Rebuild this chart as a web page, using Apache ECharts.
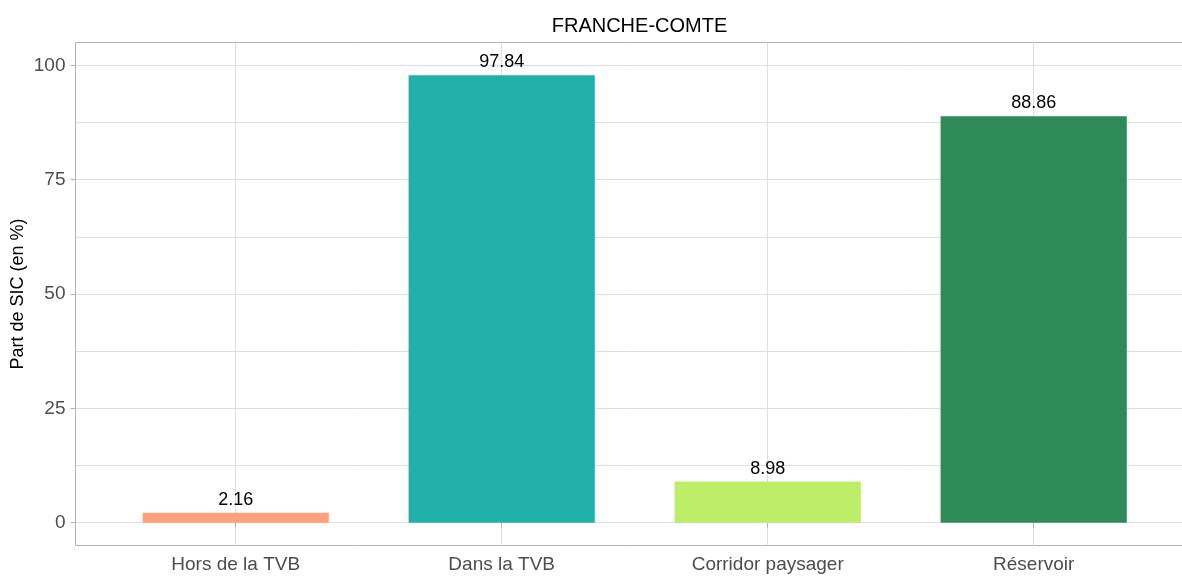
<!DOCTYPE html>
<html>
<head>
<meta charset="utf-8">
<script src="https://cdn.jsdelivr.net/npm/echarts@6/dist/echarts.min.js"></script>
<style>html,body{margin:0;padding:0;background:#fff;}#chart{width:1182px;height:576px;}</style>
</head>
<body>
<div id="chart"></div>
<script>
const categories = ['Hors de la TVB', 'Dans la TVB', 'Corridor paysager', 'Réservoir'];
const values = [2.16, 97.84, 8.98, 88.86];
const barColors = ['#FFA07A', '#20B2AA', '#BCEE68', '#2E8B57'];
const yTicks = [0, 25, 50, 75, 100];
const yGrid = [0, 12.5, 25, 37.5, 50, 62.5, 75, 87.5, 100];
const yMin = -5, yMax = 105;

const FONT = 'Liberation Sans, Arial, sans-serif';
const chart = echarts.init(document.getElementById('chart'), null, {renderer: 'canvas'});
const gridLines = yGrid.map(v => ({yAxis: v}));
const borderLines = [yMin, yMax].map(v => ({yAxis: v, lineStyle: {color: '#b3b3b3', width: 1}}));
const option = {
  animation: false,
  backgroundColor: '#fff',
  textStyle: {fontFamily: FONT},
  title: {
    text: 'FRANCHE-COMTE', left: 634.5, top: 11, textAlign: 'center',
    textStyle: {fontFamily: FONT, fontSize: 20, fontWeight: 'normal', color: '#000'}
  },
  grid: [
    {left: 75.5, top: 42.5, width: 1117, height: 503, show: false, containLabel: false, outerBoundsMode: 'none'},
    {left: 102.7, top: 42.5, width: 1064, height: 503, containLabel: false, outerBoundsMode: 'none'}
  ],
  xAxis: [
    {gridIndex: 0, type: 'value', min: 0, max: 1, show: false},
    {gridIndex: 1, type: 'category', data: categories,
     axisLine: {show: false},
     axisTick: {show: true, alignWithLabel: true, length: 5, lineStyle: {color: '#b3b3b3', width: 1}},
     axisLabel: {fontFamily: FONT, fontSize: 19, color: '#4d4d4d', margin: 10},
     splitLine: {show: false}}
  ],
  yAxis: [
    {gridIndex: 0, type: 'value', min: yMin, max: yMax,
     axisLine: {show: true, lineStyle: {color: '#b3b3b3', width: 1}},
     axisTick: {show: true, customValues: yTicks, length: 5, lineStyle: {color: '#b3b3b3', width: 1}},
     axisLabel: {customValues: yTicks, fontFamily: FONT, fontSize: 19, color: '#4d4d4d', margin: 10},
     splitLine: {show: false},
     name: 'Part de SIC (en %)', nameLocation: 'middle', nameRotate: 90, nameGap: 48, nameMoveOverlap: false,
     nameTextStyle: {fontFamily: FONT, fontSize: 18, color: '#000'}},
    {gridIndex: 1, type: 'value', min: yMin, max: yMax, show: false, splitLine: {show: false}}
  ],
  series: [
    {
      type: 'line', xAxisIndex: 0, yAxisIndex: 0, data: [[0.5, 0]], symbol: 'none',
      lineStyle: {opacity: 0}, silent: true, z: 0,
      markLine: {silent: true, z: 0, symbol: ['none', 'none'], label: {show: false}, animation: false,
        lineStyle: {color: '#dedede', width: 1, type: 'solid'},
        data: gridLines.concat(borderLines)}
    },
    {
      type: 'line', xAxisIndex: 1, yAxisIndex: 1, data: categories.map(() => 0), symbol: 'none',
      lineStyle: {opacity: 0}, silent: true, z: 0,
      markLine: {silent: true, z: 0, symbol: ['none', 'none'], label: {show: false}, animation: false,
        lineStyle: {color: '#dedede', width: 1, type: 'solid'},
        data: categories.map(c => ({xAxis: c}))}
    },
    {
      type: 'bar', xAxisIndex: 1, yAxisIndex: 1, barWidth: '70%', z: 3,
      data: values.map((v, i) => ({value: v, itemStyle: {color: barColors[i]}})),
      label: {show: true, position: 'top', distance: 4, fontFamily: FONT, fontSize: 18, color: '#000',
        formatter: p => p.value.toFixed(2)}
    }
  ]
};
chart.setOption(option);
</script>
</body>
</html>
